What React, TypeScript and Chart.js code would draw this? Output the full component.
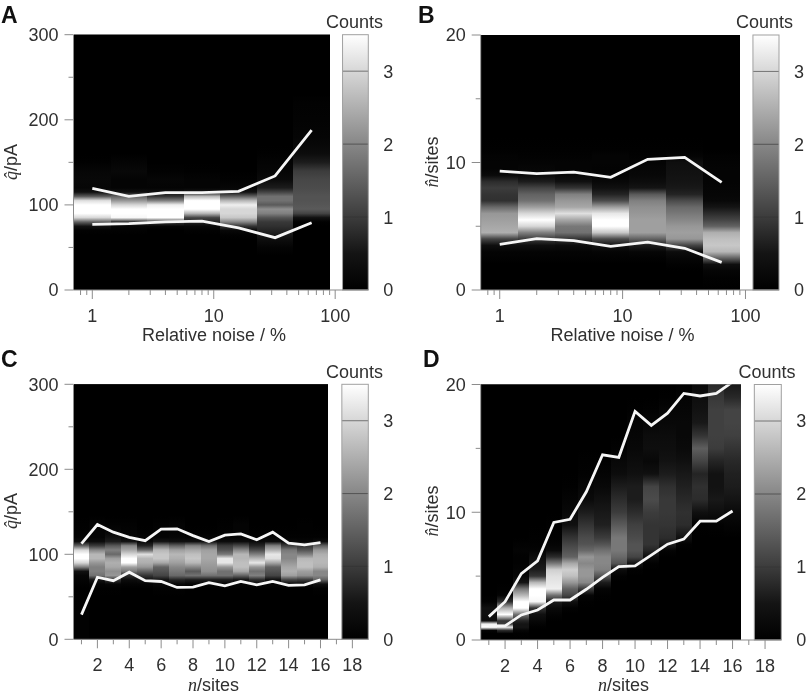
import React, { useEffect, useRef } from "react";
import { Chart, registerables } from "chart.js";

Chart.register(...registerables);

// ---------- shared axes ----------
const noiseLevels = [1, 2, 4, 8, 16, 32, 64];
const noiseEdges = [0.707, 1.414, 2.83, 5.66, 11.3, 22.6, 45.3, 90.5];
const noiseTicks = [0.8, 0.9, 1, 2, 3, 4, 5, 6, 7, 8, 9, 10, 20, 30, 40, 50, 60, 70, 80, 90, 100];
const noiseLabels = [1, 10, 100];
const siteLevels = [1, 2, 3, 4, 5, 6, 7, 8, 9, 10, 11, 12, 13, 14, 15, 16];
const siteEdges = [0.5, 1.5, 2.5, 3.5, 4.5, 5.5, 6.5, 7.5, 8.5, 9.5, 10.5, 11.5, 12.5, 13.5, 14.5, 15.5, 16.5];
const siteTicks = [1, 2, 3, 4, 5, 6, 7, 8, 9, 10, 11, 12, 13, 14, 15, 16, 17, 18];
const siteLabels = [2, 4, 6, 8, 10, 12, 14, 16, 18];
const qTicks = [0, 50, 100, 150, 200, 250, 300];
const qLabels = [0, 100, 200, 300];
const nTicks = [0, 5, 10, 15, 20];
const nLabels = [0, 10, 20];
const countTicks = [0, 1, 2, 3];
// colour bar: counts -> gray level
const rampCounts = [0, 0.5, 1, 2, 3, 3.5];
const rampGray = [0, 20, 60, 135, 215, 255];

// ---------- panel A ----------
const aStops = [40, 50, 60, 65, 70, 75, 80, 85, 90, 95, 100, 105, 110, 115, 120, 130, 140, 150, 160, 170, 180, 190, 200, 220, 230];
const aCounts = [
  [0, 0, 0, 0, 0.05, 0.45, 1.5, 3.0, 3.5, 3.6, 3.6, 3.1, 1.4, 0.4, 0.15, 0.2, 0.15, 0.02],
  [0, 0, 0, 0, 0.05, 0.15, 0.8, 3.4, 3.6, 3.6, 3.0, 2.2, 1.5, 0.4, 0.1, 0.1, 0.2, 0.1],
  [0, 0, 0, 0, 0, 0.15, 1.0, 3.5, 3.6, 3.6, 3.3, 1.9, 0.9, 0.35, 0.1, 0.15, 0.05],
  [0, 0, 0, 0, 0.05, 0.2, 0.7, 1.1, 2.6, 3.6, 3.6, 3.6, 2.6, 0.5, 0.1, 0.1, 0.02],
  [0, 0, 0, 0.05, 0.2, 0.9, 2.0, 2.8, 3.0, 3.0, 3.3, 2.6, 1.5, 0.45, 0.15, 0.05],
  [0, 0.1, 0.35, 0.55, 0.7, 0.85, 0.95, 1.3, 1.9, 2.1, 1.4, 1.7, 1.7, 1.1, 0.6, 0.25, 0.15, 0.1, 0.02],
  [0, 0, 0, 0, 0, 0, 0.05, 0.4, 1.1, 1.4, 1.35, 1.3, 1.3, 1.25, 1.2, 1.15, 1.0, 0.6, 0.3, 0.2, 0.12, 0.1, 0.08, 0.05],
];
const aUpper = [119.5, 110, 114.5, 114.5, 116, 134, 188];
const aLower = [77, 78, 80, 81, 73, 61.5, 79];

// ---------- panel B ----------
const bStops = [1, 1.5, 2, 2.5, 3, 3.5, 4, 4.5, 5, 5.5, 6, 6.5, 7, 7.5, 8, 8.5, 9, 9.5, 10, 10.5, 11, 12];
const bCounts = [
  [0, 0, 0, 0.05, 0.1, 0.35, 1.1, 2.5, 2.4, 2.3, 2.2, 1.6, 0.85, 0.9, 1.0, 0.8, 0.25, 0.1, 0.1, 0.08, 0.02],
  [0, 0, 0, 0.05, 0.1, 0.35, 1.0, 1.9, 3.0, 3.5, 3.0, 2.3, 1.7, 1.5, 1.1, 0.6, 0.25, 0.15, 0.1, 0.05, 0.02],
  [0, 0, 0, 0.05, 0.1, 0.3, 0.9, 1.7, 1.8, 2.4, 3.1, 2.4, 2.2, 1.9, 0.9, 0.4, 0.2, 0.1, 0.1, 0.05, 0.02],
  [0, 0, 0, 0.05, 0.12, 0.45, 1.2, 2.8, 3.6, 3.6, 3.2, 2.3, 1.2, 0.7, 0.4, 0.2, 0.1, 0.08, 0.1, 0.1, 0.02],
  [0, 0, 0, 0.05, 0.15, 0.6, 1.5, 2.3, 2.3, 2.3, 2.2, 2.1, 1.9, 1.4, 0.5, 0.3, 0.2, 0.15, 0.1, 0.05, 0.02],
  [0, 0, 0.05, 0.15, 0.3, 1.1, 2.2, 2.3, 2.2, 2.0, 1.8, 1.6, 1.2, 0.7, 0.55, 0.5, 0.45, 0.4, 0.35, 0.1, 0.02],
  [0.05, 0.12, 0.35, 1.5, 2.6, 2.8, 2.7, 2.5, 1.5, 1.1, 0.8, 0.5, 0.2, 0.15, 0.12, 0.1, 0.1, 0.1, 0.08, 0.05, 0.01],
];
const bUpper = [9.33, 9.12, 9.25, 8.84, 10.25, 10.4, 8.44];
const bLower = [3.58, 4.03, 3.87, 3.42, 3.76, 3.27, 2.17];

// ---------- panel C ----------
const cStops = [0, 30, 50, 60, 65, 70, 75, 80, 85, 90, 95, 100, 105, 110, 115, 120, 125, 135, 145];
const cCounts = [
  [0.06, 0.05, 0.03, 0, 0.05, 0.1, 0.15, 0.4, 1.9, 3.0, 3.6, 3.6, 3.0, 1.5, 0.3, 0.1, 0.05, 0.02],
  [0, 0, 0, 0.02, 0.1, 0.5, 1.7, 1.9, 1.9, 2.2, 2.6, 2.6, 2.0, 1.0, 0.3, 0.1, 0.1, 0.1],
  [0, 0, 0, 0.03, 0.15, 0.9, 2.2, 2.1, 2.4, 2.5, 2.3, 1.6, 1.9, 1.4, 0.6, 0.4, 0.2, 0.05],
  [0, 0, 0, 0, 0.1, 0.3, 0.8, 1.8, 2.3, 3.5, 3.6, 3.0, 2.4, 2.0, 0.5, 0.15, 0.1, 0.05],
  [0, 0, 0, 0, 0.1, 0.4, 0.9, 1.5, 2.2, 2.5, 2.6, 3.1, 1.6, 0.7, 0.2, 0.1, 0.02],
  [0, 0, 0, 0.05, 0.2, 0.5, 1.1, 1.3, 1.5, 2.4, 2.8, 2.8, 2.6, 1.8, 0.5, 0.1, 0.1, 0.05],
  [0, 0, 0, 0.05, 0.2, 0.7, 1.6, 1.8, 2.0, 2.3, 2.5, 2.6, 2.3, 1.5, 0.4, 0.15, 0.1, 0.1],
  [0, 0, 0, 0, 0.1, 0.6, 1.7, 1.4, 2.0, 2.6, 2.8, 2.7, 2.4, 1.9, 0.4, 0.1, 0.02],
  [0, 0, 0, 0, 0.1, 0.6, 1.7, 2.1, 2.2, 2.3, 2.4, 2.4, 2.3, 1.7, 0.4, 0.1, 0.02],
  [0, 0, 0, 0, 0.1, 0.6, 1.7, 1.7, 2.2, 3.2, 3.2, 1.8, 1.3, 1.0, 0.3, 0.1, 0.05, 0.02],
  [0, 0, 0, 0, 0.1, 0.5, 1.5, 2.4, 2.7, 2.7, 2.6, 2.6, 2.0, 1.2, 0.3, 0.1, 0.1, 0.1],
  [0, 0, 0, 0, 0.15, 0.8, 1.9, 1.7, 2.2, 3.2, 2.6, 1.9, 1.2, 0.7, 0.25, 0.05, 0.02],
  [0, 0, 0, 0, 0.1, 0.4, 1.1, 1.3, 1.5, 2.4, 3.1, 3.2, 2.5, 1.9, 0.3, 0.1, 0.02],
  [0, 0, 0, 0, 0.2, 1.1, 2.3, 2.5, 2.4, 2.2, 2.0, 2.0, 1.8, 1.0, 0.2, 0.05, 0.02],
  [0, 0, 0, 0, 0.2, 1.0, 2.1, 2.3, 2.7, 2.7, 2.6, 1.9, 1.3, 0.9, 0.15, 0.05, 0.02, 0.02],
  [0, 0, 0, 0.05, 0.4, 1.5, 2.0, 2.0, 2.5, 2.6, 2.6, 2.5, 2.2, 1.5, 0.3, 0.05, 0.02],
];
const cUpper = [112.5, 135, 126, 120, 116, 129.5, 130, 122, 115, 122.5, 124, 117, 126, 113, 111, 113.7];
const cLower = [29, 73, 69, 79, 69, 68, 61, 61.5, 66.7, 63, 68, 64, 68, 63.5, 64, 70];

// ---------- panel D ----------
const dStops = [0.5, 0.75, 1, 1.25, 1.5, 2, 2.5, 3, 3.5, 4, 4.5, 5, 5.5, 6, 6.5, 7, 7.5, 8, 9, 10, 11, 12, 13, 14, 15, 16, 17, 18, 19, 20];
const dCounts = [
  [0, 0.1, 3.5, 3.3, 0.3, 0.4, 0.4, 0.05],
  [0, 0.8, 3.2, 1.0, 0.9, 3.6, 2.5, 0.8, 0.1, 0.02],
  [0.02, 0.15, 0.5, 0.5, 0.7, 1.7, 3.5, 3.6, 2.6, 1.8, 0.5, 0.15, 0.1, 0.05, 0.05, 0.1, 0.05],
  [0, 0, 0.02, 0.1, 0.2, 0.4, 0.9, 3.4, 3.6, 3.6, 2.6, 0.9, 0.6, 0.5, 0.3, 0.1, 0.05, 0.02],
  [0, 0, 0, 0, 0, 0.1, 0.25, 0.6, 1.7, 3.3, 3.2, 3.1, 2.9, 1.8, 0.8, 0.25, 0.1, 0.05, 0.02],
  [0, 0, 0, 0, 0, 0, 0.05, 0.4, 1.1, 1.5, 2.2, 2.7, 2.9, 2.4, 1.5, 1.3, 1.1, 0.9, 0.4, 0.2, 0.1, 0.02],
  [0, 0, 0, 0, 0, 0, 0, 0.02, 0.15, 1.0, 2.0, 2.2, 2.2, 2.0, 2.2, 1.6, 1.3, 1.2, 0.9, 0.6, 0.25, 0.15, 0.05, 0.02],
  [0, 0, 0, 0, 0, 0, 0, 0, 0.02, 0.1, 0.6, 1.3, 1.9, 2.0, 2.0, 1.7, 1.3, 1.0, 0.65, 0.55, 0.4, 0.2, 0.1, 0.02],
  [0, 0, 0, 0, 0, 0, 0, 0, 0, 0, 0, 0.05, 0.3, 1.3, 1.6, 1.8, 1.8, 1.8, 1.4, 1.0, 0.8, 0.6, 0.3, 0.2, 0.05],
  [0, 0, 0, 0, 0, 0, 0, 0, 0, 0, 0, 0, 0.05, 0.5, 1.1, 1.3, 1.3, 1.2, 1.05, 0.8, 0.6, 0.6, 0.4, 0.3, 0.2, 0.15, 0.1, 0.02],
  [0, 0, 0, 0, 0, 0, 0, 0, 0, 0, 0, 0, 0, 0.05, 0.3, 0.7, 0.9, 0.9, 0.9, 1.0, 1.2, 1.1, 0.4, 0.2, 0.35, 0.3, 0.15, 0.05],
  [0, 0, 0, 0, 0, 0, 0, 0, 0, 0, 0, 0, 0, 0, 0, 0.1, 0.6, 0.8, 0.9, 0.95, 0.95, 0.85, 0.6, 0.45, 0.35, 0.3, 0.2, 0.15, 0.02],
  [0, 0, 0, 0, 0, 0, 0, 0, 0, 0, 0, 0, 0, 0, 0, 0, 0.05, 0.4, 0.8, 0.85, 0.75, 0.65, 0.55, 0.4, 0.25, 0.2, 0.2, 0.15, 0.1, 0.02],
  [0, 0, 0, 0, 0, 0, 0, 0, 0, 0, 0, 0, 0, 0, 0, 0, 0, 0, 0.02, 0.4, 0.8, 0.85, 0.7, 1.1, 1.45, 0.9, 0.55, 0.45, 0.35, 0.25],
  [0, 0, 0, 0, 0, 0, 0, 0, 0, 0, 0, 0, 0, 0, 0, 0, 0, 0, 0.05, 0.35, 0.55, 0.45, 0.45, 0.7, 1.0, 1.05, 1.05, 1.05, 0.95, 0.75],
  [0, 0, 0, 0, 0, 0, 0, 0, 0, 0, 0, 0, 0, 0, 0, 0, 0, 0, 0.1, 0.25, 0.5, 0.6, 0.65, 0.75, 0.9, 1.05, 1.1, 1.1, 0.75, 0.55],
];
const dUpper = [1.83, 3.0, 5.2, 6.2, 9.2, 9.45, 11.6, 14.5, 14.3, 17.9, 16.8, 17.75, 19.3, 19.1, 19.3, 20.2];
const dLower = [1.1, 1.1, 1.96, 2.35, 3.13, 3.13, 3.97, 4.9, 5.75, 5.8, 6.65, 7.5, 7.9, 9.3, 9.3, 10.1];

// ---------- styling ----------
const COUNT_MAX = 3.5;
const INK = "#303030";
const AXIS = "#8c8c8c";
const SANS = '"Liberation Sans", Arial, sans-serif';
const SERIF_IT = 'italic 18px "Liberation Serif", serif';
const SANS18 = `18px ${SANS}`;
const gray = (v: number) => {
  const c = Math.min(v, COUNT_MAX);
  let i = 0;
  while (i < rampCounts.length - 2 && c > rampCounts[i + 1]) i++;
  const t = (c - rampCounts[i]) / (rampCounts[i + 1] - rampCounts[i]);
  const g = Math.round(rampGray[i] + t * (rampGray[i + 1] - rampGray[i]));
  return `rgb(${g},${g},${g})`;
};

type Run = { text: string; font: string };
const qTitle: Run[] = [{ text: "q\u0302", font: SERIF_IT }, { text: "/pA", font: SANS18 }];
const nHatTitle: Run[] = [{ text: "n\u0302", font: SERIF_IT }, { text: "/sites", font: SANS18 }];
const nTitle: Run[] = [{ text: "n", font: SERIF_IT }, { text: "/sites", font: SANS18 }];
const noiseTitle: Run[] = [{ text: "Relative noise / %", font: SANS18 }];

const drawRuns = (ctx: CanvasRenderingContext2D, runs: Run[], x: number, y: number, rotate: boolean) => {
  ctx.save();
  ctx.translate(x, y);
  if (rotate) ctx.rotate(-Math.PI / 2);
  ctx.fillStyle = INK;
  ctx.textAlign = "left";
  ctx.textBaseline = "alphabetic";
  let total = 0;
  runs.forEach((r) => { ctx.font = r.font; total += ctx.measureText(r.text).width; });
  let cx = -total / 2;
  runs.forEach((r) => {
    ctx.font = r.font;
    ctx.fillText(r.text, cx, 0);
    cx += ctx.measureText(r.text).width;
  });
  ctx.restore();
};

type PanelCfg = {
  letter: string; letterX: number; letterY: number;
  canvas: { x: number; y: number; w: number; h: number };
  area: { l: number; r: number; t: number; b: number };
  log: boolean; xMin: number; xMax: number; cbStart: number;
  levels: number[]; edges: number[]; xTicks: number[]; xLabels: number[];
  yMax: number; yTicks: number[]; yLabels: number[];
  stops: number[]; counts: number[][]; upper: number[]; lower: number[];
  xTitle: Run[]; xTitleX: number; xTitleY: number;
  yTitle: Run[]; yTitleX: number; yTitleY: number;
  countsX: number; countsY: number;
};

const panels: PanelCfg[] = [
  {
    letter: "A", letterX: 1, letterY: 23, canvas: { x: 0, y: 0, w: 400, h: 350 }, area: { l: 73.5, r: 368.3, t: 34.7, b: 290 },
    log: true, xMin: 0.7086, xMax: 187.4, cbStart: 115, levels: noiseLevels, edges: noiseEdges, xTicks: noiseTicks, xLabels: noiseLabels,
    yMax: 300, yTicks: qTicks, yLabels: qLabels, stops: aStops, counts: aCounts, upper: aUpper, lower: aLower,
    xTitle: noiseTitle, xTitleX: 214, xTitleY: 341, yTitle: qTitle, yTitleX: 17, yTitleY: 162, countsX: 354.5, countsY: 28,
  },
  {
    letter: "B", letterX: 18, letterY: 23, canvas: { x: 400, y: 0, w: 407, h: 350 }, area: { l: 80.7, r: 379, t: 35, b: 290 },
    log: true, xMin: 0.7086, xMax: 187.4, cbStart: 115, levels: noiseLevels, edges: noiseEdges, xTicks: noiseTicks, xLabels: noiseLabels,
    yMax: 20, yTicks: nTicks, yLabels: nLabels, stops: bStops, counts: bCounts, upper: bUpper, lower: bLower,
    xTitle: noiseTitle, xTitleX: 222.5, xTitleY: 341, yTitle: nHatTitle, yTitleX: 38, yTitleY: 162, countsX: 364.5, countsY: 28,
  },
  {
    letter: "C", letterX: 1, letterY: 17, canvas: { x: 0, y: 350, w: 400, h: 347 }, area: { l: 73.5, r: 368.3, t: 34.3, b: 289.3 },
    log: false, xMin: 0.5, xMax: 19, cbStart: 17.34, levels: siteLevels, edges: siteEdges, xTicks: siteTicks, xLabels: siteLabels,
    yMax: 300, yTicks: qTicks, yLabels: qLabels, stops: cStops, counts: cCounts, upper: cUpper, lower: cLower,
    xTitle: nTitle, xTitleX: 213.5, xTitleY: 341, yTitle: qTitle, yTitleX: 17, yTitleY: 161, countsX: 354.5, countsY: 28,
  },
  {
    letter: "D", letterX: 23, letterY: 17, canvas: { x: 400, y: 350, w: 407, h: 347 }, area: { l: 80.7, r: 381.3, t: 34.5, b: 290 },
    log: false, xMin: 0.5, xMax: 19, cbStart: 17.34, levels: siteLevels, edges: siteEdges, xTicks: siteTicks, xLabels: siteLabels,
    yMax: 20, yTicks: nTicks, yLabels: nLabels, stops: dStops, counts: dCounts, upper: dUpper, lower: dLower,
    xTitle: nTitle, xTitleX: 223.5, xTitleY: 341, yTitle: nHatTitle, yTitleX: 38, yTitleY: 161, countsX: 367, countsY: 28,
  },
];

const framePlugin = (p: PanelCfg) => ({
  id: "frame",
  beforeDraw(chart: any) {
    // nudge the value-axis labels so the digits centre on their ticks
    [chart.scales.y, chart.scales.y1].forEach((s: any) => {
      s.getLabelItems(chart.chartArea).forEach((it: any) => {
        if (!it.nudged) { it.options.translation[1] += 1.5; it.nudged = true; }
      });
    });
  },
  beforeDatasetsDraw(chart: any) {
    const { ctx, scales, chartArea: a } = chart;
    const { x, y, y1 } = scales;
    ctx.save();
    // heat cells, snapped to whole pixels over a black ground
    const top = y.getPixelForValue(p.yMax);
    const bot = y.getPixelForValue(0);
    const heatL = Math.round(x.getPixelForValue(p.edges[0]));
    const heatR = Math.round(x.getPixelForValue(p.edges[p.edges.length - 1]));
    ctx.fillStyle = "#000";
    ctx.fillRect(heatL, top, heatR - heatL, bot - top);
    p.counts.forEach((col, i) => {
      const x0 = Math.round(x.getPixelForValue(p.edges[i]));
      const x1 = Math.round(x.getPixelForValue(p.edges[i + 1]));
      const g = ctx.createLinearGradient(0, bot, 0, top);
      g.addColorStop(0, "#000");
      p.stops.forEach((s, k) => g.addColorStop(s / p.yMax, gray(col[k] ?? 0)));
      ctx.fillStyle = g;
      ctx.fillRect(x0, top, x1 - x0, bot - top);
    });
    // colour bar
    const cb0 = x.getPixelForValue(p.cbStart);
    const cb1 = x.getPixelForValue(p.xMax);
    const cg = ctx.createLinearGradient(0, y1.getPixelForValue(0), 0, y1.getPixelForValue(COUNT_MAX));
    rampCounts.forEach((c) => cg.addColorStop(c / COUNT_MAX, gray(c)));
    ctx.fillStyle = cg;
    ctx.fillRect(cb0, top, cb1 - cb0, bot - top);
    ctx.strokeStyle = "rgba(50,50,50,0.6)";
    ctx.lineWidth = 1;
    countTicks.slice(1).forEach((v) => {
      const py = y1.getPixelForValue(v);
      ctx.beginPath(); ctx.moveTo(cb0, py); ctx.lineTo(cb1, py); ctx.stroke();
    });
    ctx.strokeStyle = "#a0a0a0";
    ctx.strokeRect(cb0, top, cb1 - cb0, bot - top);
    // axis lines and tick marks
    ctx.strokeStyle = AXIS;
    ctx.beginPath();
    ctx.moveTo(a.left, a.top); ctx.lineTo(a.left, a.bottom); ctx.lineTo(a.right, a.bottom);
    p.yTicks.forEach((v) => {
      const py = y.getPixelForValue(v);
      ctx.moveTo(a.left, py); ctx.lineTo(a.left - (p.yLabels.includes(v) ? 9 : 5), py);
    });
    p.xTicks.forEach((v) => {
      const px = x.getPixelForValue(v);
      const major = p.log ? p.xLabels.includes(v) : v % 2 === 0;
      ctx.moveTo(px, a.bottom); ctx.lineTo(px, a.bottom + (major ? 9 : 5));
    });
    ctx.stroke();
    ctx.restore();
  },
  afterDraw(chart: any) {
    const { ctx } = chart;
    drawRuns(ctx, p.xTitle, p.xTitleX, p.xTitleY, false);
    drawRuns(ctx, p.yTitle, p.yTitleX, p.yTitleY, true);
    drawRuns(ctx, [{ text: "Counts", font: SANS18 }], p.countsX, p.countsY, false);
    ctx.save();
    ctx.fillStyle = "#111";
    ctx.font = `bold 23px ${SANS}`;
    ctx.textAlign = "left";
    ctx.fillText(p.letter, p.letterX, p.letterY);
    ctx.restore();
  },
});

const setTicks = (vals: number[]) => (scale: any) => {
  scale.ticks = vals.map((value) => ({ value }));
};

function Panel({ p }: { p: PanelCfg }) {
  const ref = useRef<HTMLCanvasElement>(null);
  useEffect(() => {
    const font = { family: SANS, size: 18 };
    const { w, h } = p.canvas;
    const line = (data: number[]) => ({
      data: p.levels.map((lv, i) => ({ x: lv, y: data[i] })),
      borderColor: "#f6f6f6",
      borderWidth: 2.8,
      pointRadius: 0,
      showLine: true,
      tension: 0,
      borderJoinStyle: "miter" as const,
      yAxisID: "y",
    });
    const chart = new Chart(ref.current!, {
      type: "scatter",
      data: { datasets: [line(p.upper), line(p.lower)] },
      plugins: [framePlugin(p)],
      options: {
        animation: false,
        responsive: false,
        events: [],
        layout: { autoPadding: false, padding: { top: p.area.t, left: 0, right: 0, bottom: 0 } },
        plugins: { legend: { display: false }, tooltip: { enabled: false }, title: { display: false } },
        scales: {
          x: {
            type: p.log ? "logarithmic" : "linear",
            min: p.xMin, max: p.xMax,
            grid: { display: false, drawTicks: false },
            border: { display: false },
            afterBuildTicks: setTicks(p.xTicks),
            afterFit: (s: any) => { s.height = h - p.area.b; },
            ticks: {
              autoSkip: false, maxRotation: 0, minRotation: 0, padding: 16, color: INK, font,
              callback: (v: any) => (p.xLabels.includes(Number(v)) ? String(v) : ""),
            },
          },
          y: {
            type: "linear", position: "left", min: 0, max: p.yMax,
            grid: { display: false, drawTicks: false },
            border: { display: false },
            afterBuildTicks: setTicks(p.yTicks),
            afterFit: (s: any) => { s.width = p.area.l; },
            ticks: {
              autoSkip: false, padding: 15, color: INK, font,
              callback: (v: any) => (p.yLabels.includes(Number(v)) ? String(v) : ""),
            },
          },
          y1: {
            type: "linear", position: "right", min: 0, max: COUNT_MAX,
            grid: { display: false, drawTicks: false },
            border: { display: false },
            afterBuildTicks: setTicks(countTicks),
            afterFit: (s: any) => { s.width = w - p.area.r; },
            ticks: { autoSkip: false, padding: 15, color: INK, font, callback: (v: any) => String(v) },
          },
        },
      } as any,
    });
    return () => chart.destroy();
  }, [p]);
  return (
    <canvas
      ref={ref}
      width={p.canvas.w}
      height={p.canvas.h}
      style={{ position: "absolute", left: p.canvas.x, top: p.canvas.y, width: p.canvas.w, height: p.canvas.h }}
    />
  );
}

export default function App() {
  return (
    <div style={{ position: "absolute", left: 0, top: 0, width: 807, height: 697, background: "#fff", overflow: "hidden" }}>
      {panels.map((p) => <Panel key={p.letter} p={p} />)}
    </div>
  );
}
